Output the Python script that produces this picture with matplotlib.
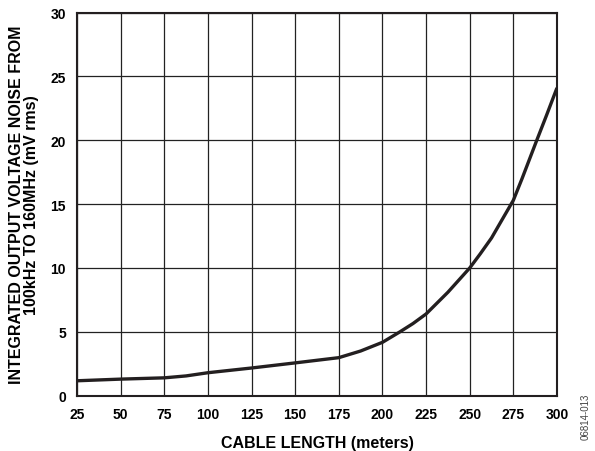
import matplotlib
matplotlib.use("Agg")
import matplotlib.pyplot as plt

# data
cable_m = [25, 50, 75, 87.5, 100, 125, 150, 175, 187.5, 200, 210, 217.5, 225, 237.5, 250,
           256, 262.5, 268, 275, 280, 288, 294, 300]
noise_mv = [1.17, 1.3, 1.4, 1.55, 1.8, 2.17, 2.57, 2.98, 3.5, 4.18, 5.0, 5.65, 6.4, 8.1, 10.0,
            11.1, 12.35, 13.65, 15.3, 17.0, 19.85, 21.95, 24.1]

x_ticks = [25, 50, 75, 100, 125, 150, 175, 200, 225, 250, 275, 300]
y_ticks = [0, 5, 10, 15, 20, 25, 30]

plt.rcParams['font.family'] = ['Liberation Sans', 'DejaVu Sans']
plt.rcParams['font.weight'] = 'bold'

fig = plt.figure(figsize=(5.95, 4.52), dpi=100)
ax = fig.add_axes([0.1294, 0.1223, 0.8067, 0.8478])

ax.plot(cable_m, noise_mv, color='#231f20', linewidth=2.4, solid_capstyle='butt',
        solid_joinstyle='round', zorder=3)

ax.set_xlim(25, 300)
ax.set_ylim(0, 30)
ax.set_xticks(x_ticks)
ax.set_yticks(y_ticks)
ax.grid(True, color='#222222', linewidth=0.9)
ax.tick_params(length=0, labelsize=10, pad=8)
for lab in ax.get_xticklabels() + ax.get_yticklabels():
    lab.set_fontweight('bold')
for s in ax.spines.values():
    s.set_linewidth(1.5)
    s.set_color('#231f20')

ax.set_xlabel('CABLE LENGTH (meters)', fontsize=11.5, fontweight='bold', labelpad=10)
ax.set_ylabel('INTEGRATED OUTPUT VOLTAGE NOISE FROM\n100kHz TO 160MHz (mV rms)',
              fontsize=11.5, fontweight='bold', labelpad=8, linespacing=1.05)

fig.text(0.992, 0.077, '06814-013', rotation=90, fontsize=7, fontweight='normal',
         color='#444444', ha='right', va='center')

fig.savefig('out.png', dpi=100)
